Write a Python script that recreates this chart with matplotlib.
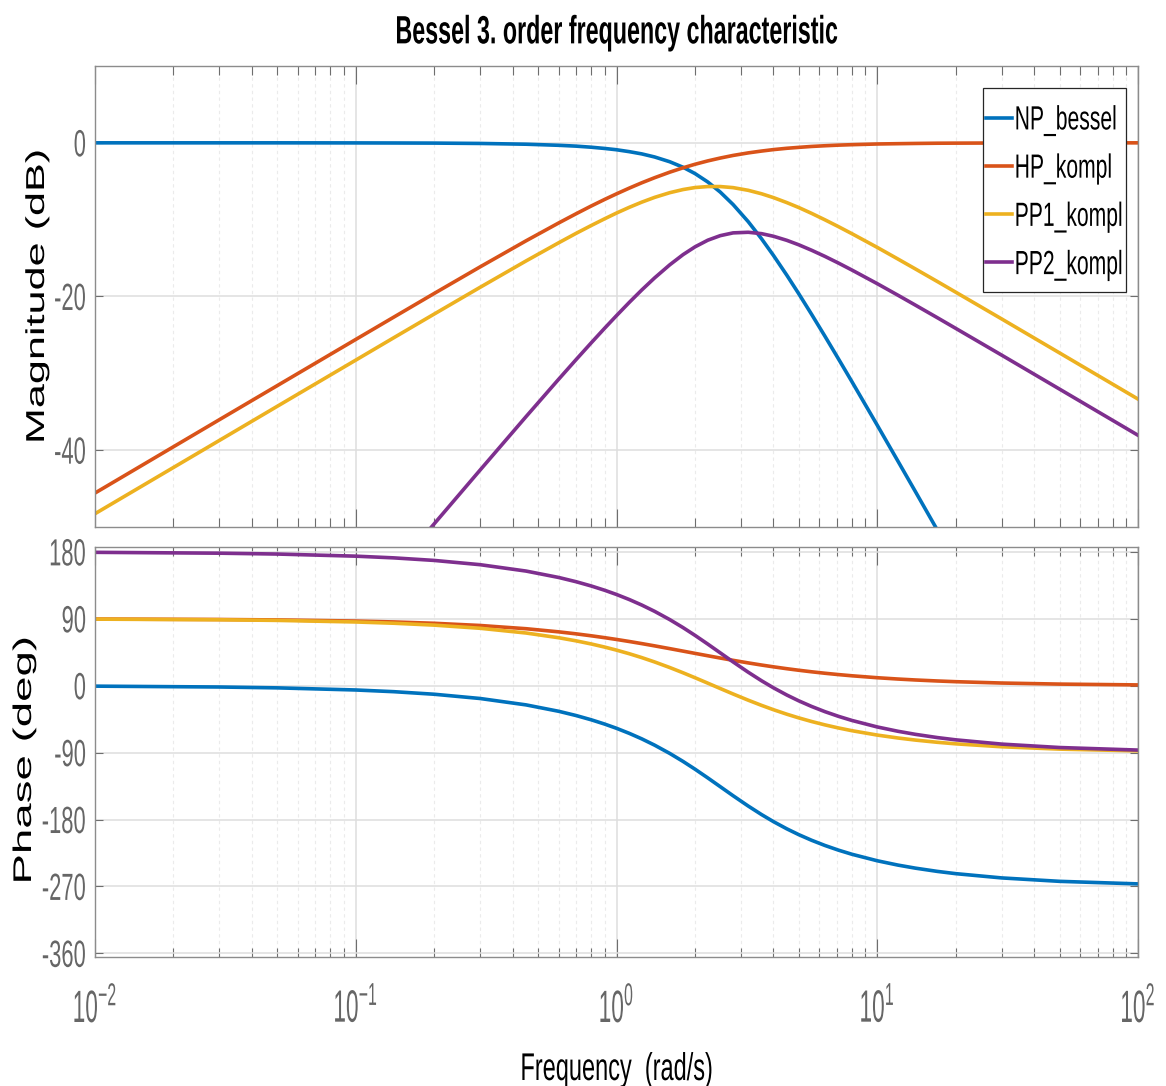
import matplotlib
matplotlib.use('Agg')
import matplotlib.pyplot as plt
from matplotlib.patheffects import AbstractPathEffect
from matplotlib.transforms import Affine2D

# ---------------- data ----------------
FREQ = [0.01, 0.03, 0.05, 0.1, 0.14, 0.2, 0.3, 0.45, 0.6, 0.7, 0.8, 0.9, 1.0,
        1.12, 1.25, 1.4, 1.6, 1.8, 2.0, 2.24, 2.5, 2.8, 3.2, 3.6, 4.0, 4.5,
        5.0, 5.6, 6.3, 7.1, 8.0, 10, 12, 14, 17, 20, 30, 50, 100]

NP_MAG = [0.0, 0.0, 0.0, -0.01, -0.02, -0.035, -0.08, -0.18, -0.32, -0.43,
          -0.57, -0.73, -0.90, -1.15, -1.44, -1.84, -2.46, -3.18, -4.00, -5.10,
          -6.41, -8.03, -10.26, -12.49, -14.66, -17.23, -19.64, -22.32, -25.17,
          -28.12, -31.10, -36.75, -41.42, -45.38, -50.40, -54.61, -65.13,
          -78.43, -96.48]
NP_PH = [-0.57, -1.72, -2.87, -5.73, -8.02, -11.46, -17.19, -25.78, -34.38,
         -40.10, -45.83, -51.55, -57.26, -64.10, -71.48, -79.94, -91.04,
         -101.85, -112.25, -124.04, -135.81, -147.97, -161.84, -173.33,
         -182.83, -192.51, -200.32, -207.88, -214.88, -221.17, -226.73,
         -235.46, -241.26, -245.38, -249.75, -252.79, -258.53, -263.12,
         -266.56]

HP_MAG = [-45.58, -36.03, -31.60, -25.59, -22.68, -19.60, -16.14, -12.75,
          -10.43, -9.23, -8.22, -7.37, -6.64, -5.89, -5.20, -4.54, -3.82,
          -3.25, -2.79, -2.35, -1.98, -1.64, -1.31, -1.07, -0.88, -0.71,
          -0.59, -0.47, -0.38, -0.30, -0.24, -0.15, -0.11, -0.08, -0.05,
          -0.04, -0.02, -0.01, 0.0]
HP_PH = [89.70, 89.10, 88.49, 86.99, 85.79, 83.99, 81.03, 76.68, 72.47, 69.78,
         67.17, 64.65, 62.24, 59.48, 56.66, 53.62, 49.90, 46.55, 43.53, 40.31,
         37.23, 34.16, 30.70, 27.82, 25.41, 22.89, 20.81, 18.74, 16.78, 14.98,
         13.36, 10.76, 9.00, 7.73, 6.38, 5.43, 3.62, 2.18, 1.09]

PP1_MAG = [-48.27, -38.73, -34.29, -28.28, -25.36, -22.28, -18.80, -15.37,
           -13.01, -11.78, -10.76, -9.89, -9.14, -8.39, -7.72, -7.10, -6.49,
           -6.08, -5.82, -5.69, -5.69, -5.83, -6.18, -6.63, -7.13, -7.78,
           -8.42, -9.18, -10.02, -10.91, -11.83, -13.61, -15.12, -16.41,
           -18.05, -19.44, -22.92, -27.34, -33.35]
PP1_PH = [89.58, 88.73, 87.88, 85.75, 84.05, 81.50, 77.26, 70.90, 64.56, 60.36,
          56.17, 52.02, 47.89, 43.01, 37.82, 31.98, 24.49, 17.40, 10.76, 3.42,
          -3.77, -11.11, -19.46, -26.43, -32.27, -38.31, -43.26, -48.12,
          -52.67, -56.82, -60.51, -66.38, -70.30, -73.11, -76.09, -78.17,
          -82.11, -85.27, -87.63]

PP2_MAG = [-101.6, -82.5, -73.63, -61.59, -55.76, -49.58, -42.58, -35.63,
           -30.77, -28.21, -26.03, -24.14, -22.49, -20.76, -19.15, -17.58,
           -15.88, -14.55, -13.54, -12.67, -12.08, -11.72, -11.64, -11.82,
           -12.16, -12.69, -13.27, -13.98, -14.78, -15.65, -16.56, -18.33,
           -19.83, -21.12, -22.76, -24.15, -27.63, -32.05, -38.06]
PP2_PH = [179.43, 178.28, 177.13, 174.27, 171.98, 168.54, 162.81, 154.22,
          145.62, 139.90, 134.17, 128.45, 122.74, 115.90, 108.52, 100.06,
          88.96, 78.15, 67.75, 55.96, 44.19, 32.03, 18.16, 6.67, -2.83,
          -12.51, -20.32, -27.88, -34.88, -41.17, -46.73, -55.46, -61.26,
          -65.38, -69.75, -72.79, -78.53, -83.12, -86.56]

SERIES_NAMES = ['NP_bessel', 'HP_kompl', 'PP1_kompl', 'PP2_kompl']
COLORS = ['#0072BD', '#D95319', '#EDB120', '#7E2F8E']

MAG_TICKS = [-40, -20, 0]
MAG_TICK_LABELS = ['-40', '-20', '0']
PHASE_TICKS = [-360, -270, -180, -90, 0, 90, 180]
PHASE_TICK_LABELS = ['-360', '-270', '-180', '-90', '0', '90', '180']
FREQ_TICKS = [1e-2, 1e-1, 1e0, 1e1, 1e2]
FREQ_TICK_LABELS = [r'$\mathdefault{10^{-2}}$', r'$\mathdefault{10^{-1}}$',
                    r'$\mathdefault{10^{0}}$', r'$\mathdefault{10^{1}}$',
                    r'$\mathdefault{10^{2}}$']

TITLE = 'Bessel 3. order frequency characteristic'
XLABEL = 'Frequency  (rad/s)'
YLABEL_MAG = 'Magnitude (dB)'
YLABEL_PH = 'Phase (deg)'

# ---------------- style ----------------
plt.rcParams['font.family'] = ['Liberation Sans', 'DejaVu Sans']
plt.rcParams['mathtext.fontset'] = 'custom'
plt.rcParams['mathtext.rm'] = 'Liberation Sans'
plt.rcParams['mathtext.it'] = 'Liberation Sans'
plt.rcParams['mathtext.bf'] = 'Liberation Sans:bold'
plt.rcParams['axes.unicode_minus'] = False

SPINE_C = '#8c8c8c'
TICK_C = '#6e6e6e'
LABEL_C = '#666666'


class StretchY(AbstractPathEffect):
    """Stretch the drawn path vertically (the reference uses tall,
    narrow lettering)."""

    def __init__(self, sy, anchor='center', grow_top=0.0, grow_bottom=0.0):
        super().__init__((0.0, 0.0))
        self.sy = sy
        self.anchor = anchor
        self.grow_top = grow_top
        self.grow_bottom = grow_bottom

    def draw_path(self, renderer, gc, tpath, affine, rgbFace=None):
        if callable(self.anchor):
            y0 = self.anchor()
        else:
            ext = tpath.get_extents(affine)
            if self.anchor == 'top':
                y0 = ext.y1
            elif self.anchor == 'bottom':
                y0 = ext.y0
            elif self.anchor == 'baseline':
                y0 = affine.get_matrix()[1, 2]
            else:
                y0 = 0.5 * (ext.y0 + ext.y1)
        t = affine + Affine2D().translate(0, -y0).scale(1.0, self.sy).translate(0, y0)
        if self.grow_top or self.grow_bottom:
            e2 = tpath.get_extents(t)
            h = max(e2.height, 1e-6)
            new_h = h + self.grow_top + self.grow_bottom
            t = t + (Affine2D().translate(0, -e2.y0).scale(1.0, new_h / h)
                     .translate(0, e2.y0 - self.grow_bottom))
        renderer.draw_path(gc, tpath, t, rgbFace)


W, H = 1166, 1086
fig = plt.figure(figsize=(W / 100, H / 100), dpi=100)
left = 95 / W
width = 1043 / W
ax1 = fig.add_axes([left, 1 - 527 / H, width, 461 / H])
ax2 = fig.add_axes([left, 1 - 956.7 / H, width, 409.4 / H])

mags = [NP_MAG, HP_MAG, PP1_MAG, PP2_MAG]
phases = [NP_PH, HP_PH, PP1_PH, PP2_PH]
for name, col, m, p in zip(SERIES_NAMES, COLORS, mags, phases):
    ax1.plot(FREQ, m, color=col, lw=2.6, label=name)
    ax2.plot(FREQ, p, color=col, lw=2.6, label=name)

for ax in (ax1, ax2):
    ax.set_xscale('log')
    ax.set_xlim(1e-2, 1e2)
    ax.set_xticks(FREQ_TICKS)
    ax.grid(True, which='major', color='#dedede', lw=1.1)
    ax.grid(True, which='minor', axis='x', color='#ebebeb', lw=0.8,
            ls=(0, (3, 3)))
    ax.set_axisbelow(True)
    for s in ax.spines.values():
        s.set_color(SPINE_C)
        s.set_linewidth(1.0)
    ax.tick_params(which='both', direction='in', top=True, right=True,
                   color=TICK_C, labelcolor=LABEL_C, width=0.8)
    ax.tick_params(axis='x', which='major', length=13)
    ax.tick_params(axis='x', which='minor', length=6.5, labelbottom=False)
    ax.tick_params(axis='y', which='major', length=6, labelsize=15.8, pad=6.5)

ax1.set_ylim(-50, 10)
ax1.set_yticks(MAG_TICKS)
ax1.set_yticklabels(MAG_TICK_LABELS)
ax1.tick_params(axis='x', labelbottom=False)

ax2.set_ylim(-364.5, 186.2)
ax2.set_yticks(PHASE_TICKS)
ax2.set_yticklabels(PHASE_TICK_LABELS)
ax2.set_xticklabels(FREQ_TICK_LABELS)
ax2.tick_params(axis='x', which='major', labelsize=16.3, pad=18.5)

ax1.set_title(TITLE, fontsize=16.76, fontweight='bold', pad=16.3, color='black')
ax1.set_ylabel(YLABEL_MAG, fontsize=18.66, va='center', color='black')
ax1.yaxis.set_label_coords((37 - 95) / 1043, 0.5)
ax2.set_ylabel(YLABEL_PH, fontsize=18.4, va='center', color='black')
ax2.yaxis.set_label_coords((24 - 95) / 1043, (956.7 - 760) / 409.4)
ax2.set_xlabel(XLABEL, fontsize=16.96, va='baseline', color='black')
ax2.xaxis.set_label_coords(0.5, (956.7 - 1080) / 409.4)

LEG_SY = 1.59
leg = ax1.legend(loc='upper right', bbox_to_anchor=((1126 - 95) / 1043, 1 - 21.6 / 461),
                 borderaxespad=0.0, fontsize=15.2, frameon=True, fancybox=False,
                 edgecolor='#262626', framealpha=1, borderpad=0.156,
                 labelspacing=0.525, handlelength=1.2, handletextpad=0.15)
leg.get_frame().set_linewidth(0.9)
for h in leg.legend_handles:
    h.set_linewidth(2.6)

fig.canvas.draw()

anchor_top = lambda: ax1.bbox.y1
leg.legendPatch.set_path_effects([StretchY(LEG_SY, anchor_top, grow_top=12, grow_bottom=6)])
for h in leg.legend_handles:
    h.set_path_effects([StretchY(LEG_SY, anchor_top)])
for t in leg.get_texts():
    t.set_path_effects([StretchY(LEG_SY, anchor_top)])

for ax in (ax1, ax2):
    for t in ax.get_yticklabels():
        t.set_path_effects([StretchY(1 / 0.58, 'center')])
for t in ax2.get_xticklabels():
    t.set_path_effects([StretchY(2.0, 'top')])
ax1.title.set_path_effects([StretchY(1 / 0.59, 'baseline')])
ax1.yaxis.label.set_path_effects([StretchY(1 / 0.6, 'center')])
ax2.yaxis.label.set_path_effects([StretchY(1 / 0.56, 'center')])
ax2.xaxis.label.set_path_effects([StretchY(1 / 0.61, 'baseline')])

fig.savefig('out.png', dpi=100)
